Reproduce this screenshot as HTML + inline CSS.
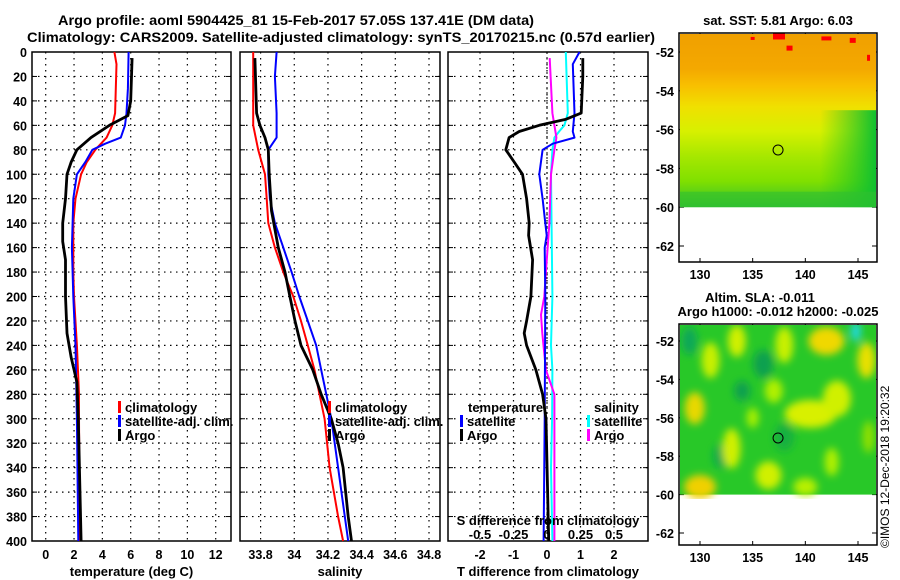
<!DOCTYPE html>
<html><head><meta charset="utf-8"><title>Argo profile</title>
<style>
html,body{margin:0;padding:0;background:#fff;}
svg{display:block;font-family:"Liberation Sans",sans-serif;font-weight:bold;}
</style></head>
<body>
<svg id="chart" width="900" height="580" viewBox="0 0 900 580" xmlns="http://www.w3.org/2000/svg">
<defs>
<linearGradient id="sstGrad" x1="0" y1="0" x2="0" y2="1">
<stop offset="0" stop-color="#f0a000"/><stop offset="0.2" stop-color="#f4a800"/>
<stop offset="0.3" stop-color="#f8c000"/><stop offset="0.42" stop-color="#f0e000"/>
<stop offset="0.56" stop-color="#d8f000"/><stop offset="0.7" stop-color="#a8e800"/>
<stop offset="0.85" stop-color="#80e000"/><stop offset="1" stop-color="#30c030"/></linearGradient>
<linearGradient id="sstRight" x1="0" y1="0" x2="1" y2="0">
<stop offset="0" stop-color="#20c820" stop-opacity="0"/><stop offset="1" stop-color="#10c030" stop-opacity="1"/></linearGradient>
<filter id="blur" x="-50%" y="-50%" width="200%" height="200%"><feGaussianBlur stdDeviation="4"/></filter>
<clipPath id="slaClip"><rect x="680" y="325" width="196" height="174"/></clipPath>
</defs>
<text x="58" y="25" font-size="14" textLength="476" lengthAdjust="spacingAndGlyphs">Argo profile: aoml 5904425_81 15-Feb-2017 57.05S 137.41E (DM data)</text>
<text x="27" y="42" font-size="14" textLength="628" lengthAdjust="spacingAndGlyphs">Climatology: CARS2009. Satellite-adjusted climatology: synTS_20170215.nc (0.57d earlier)</text>
<g id="panels"></g>
<g id="maps"></g>
</svg>
<script>
// ---------- data ----------
const depthTicks = [0,20,40,60,80,100,120,140,160,180,200,220,240,260,280,300,320,340,360,380,400];
const tempTicks = [0,2,4,6,8,10,12];
const salTicks = [33.8,34,34.2,34.4,34.6,34.8];
const tdiffTicks = [-2,-1,0,1,2];
const sdiffTicks = [-0.5,-0.25,0,0.25,0.5];

const climTempDepth = [0,10,50,60,70,80,90,100,120,140,180,200,240,280,300,400];
const climTemp      = [4.85,5.0,4.9,4.7,4.3,3.5,2.9,2.5,2.1,1.95,1.95,2.0,2.2,2.35,2.35,2.4];
const satTempDepth  = [0,30,50,60,70,75,80,90,100,120,160,200,240,300,400];
const satTemp       = [5.85,5.8,5.7,5.6,5.3,4.2,3.3,2.8,2.2,1.95,1.85,1.95,2.1,2.2,2.3];
const argoTempDepth = [5,40,52,60,70,80,90,100,120,140,155,170,200,230,250,270,300,400];
const argoTemp      = [6.1,6.0,5.8,4.5,3.2,2.2,1.8,1.5,1.4,1.2,1.2,1.4,1.4,1.5,1.8,2.2,2.3,2.5];

const climSalDepth = [0,60,80,100,120,140,160,180,200,220,240,260,280,300,340,380,400];
const climSal      = [33.756,33.756,33.786,33.826,33.836,33.846,33.885,33.935,33.994,34.04,34.08,34.12,34.15,34.18,34.21,34.26,34.29];
const satSalDepth  = [0,20,50,70,80,100,120,140,160,180,200,220,240,260,280,300,340,380,400];
const satSal       = [33.895,33.885,33.895,33.895,33.846,33.846,33.855,33.885,33.935,33.984,34.03,34.08,34.13,34.16,34.19,34.22,34.26,34.30,34.32];
const argoSalDepth = [5,50,60,70,80,100,130,160,180,200,220,240,260,280,300,320,340,380,400];
const argoSal      = [33.766,33.776,33.796,33.826,33.846,33.851,33.865,33.905,33.945,33.974,34.004,34.04,34.11,34.16,34.22,34.26,34.29,34.32,34.34];

const satTdiffDepth = [0,10,50,65,70,75,80,100,120,140,150,160,200,300,400];
const satTdiff      = [0.97,0.77,0.82,0.77,0.82,0.17,-0.13,-0.23,-0.13,-0.05,-0.01,-0.07,-0.05,-0.07,-0.1];
const argoTdiffDepth = [5,20,50,55,60,65,70,80,90,100,120,140,150,170,200,220,230,240,260,280,300,400];
const argoTdiff      = [1.07,1.07,1.02,0.57,-0.23,-0.83,-1.13,-1.23,-0.98,-0.73,-0.61,-0.53,-0.55,-0.43,-0.48,-0.61,-0.68,-0.61,-0.33,-0.13,-0.03,0.05];
const satSdiffDepth = [0,50,60,65,70,80,100,200,240,260,300,340,400];
const satSdiff      = [0.14,0.155,0.13,0.09,0.055,0.04,0.03,0.04,0.03,0.04,0.038,0.03,0.04];
const argoSdiffDepth = [5,50,60,70,80,100,140,180,200,215,230,260,280,300,400];
const argoSdiff      = [0.02,0.04,0.055,0.07,0.055,0.03,0.018,-0.008,-0.02,-0.045,-0.035,-0.008,0.055,0.055,0.055];

// ---------- helpers ----------
const NS = "http://www.w3.org/2000/svg";
function mk(tag, attrs, parent){const e=document.createElementNS(NS,tag);for(const k in attrs)e.setAttribute(k,attrs[k]);parent.appendChild(e);return e;}
const Y0=52, Y1=541;
function yDepth(d){return Y0+(d/400)*(Y1-Y0);}
function lin(d0,d1,r0,r1){return v=>r0+(v-d0)/(d1-d0)*(r1-r0);}
const xTemp = lin(0,12,45.7,215.7);
const xSal = lin(33.8,34.8,260.6,429);
const xTd = lin(-2,2,480,614);
const xSd = v => xTd(v*4);
const panels = document.getElementById('panels');

function panel(name, x0, x1, xTicks, xf, fmt, xlabel, showY){
  const g = mk('g',{},panels);
  
  
  depthTicks.forEach(d=>{ if(d>0&&d<400){const l=mk('line',{x1:x0,x2:x1,y1:yDepth(d),y2:yDepth(d),stroke:'#000','stroke-width':1.2,'stroke-dasharray':'1.5,4.5'},g);
    
    }
    mk('line',{x1:x0,x2:x0+5,y1:yDepth(d),y2:yDepth(d),stroke:'#000'},g);
    mk('line',{x1:x1-5,x2:x1,y1:yDepth(d),y2:yDepth(d),stroke:'#000'},g);
    if(showY){const t=mk('text',{x:x0-5,y:yDepth(d)+5,'font-size':12.5,'text-anchor':'end'},g);t.textContent=d;
      
      }
  });
  xTicks.forEach(v=>{const x=xf(v);
    const l=mk('line',{x1:x,x2:x,y1:Y0,y2:Y1,stroke:'#000','stroke-width':1.2,'stroke-dasharray':'1.5,4.5'},g);
    
    
    const t=mk('text',{x:x,y:559,'font-size':12.5,'text-anchor':'middle'},g);t.textContent=fmt(v);
    
    
  });
  const r=mk('rect',{x:x0,y:Y0,width:x1-x0,height:Y1-Y0,fill:'none',stroke:'#000','stroke-width':1.5},g);
  
  
  const lab=mk('text',{x:(x0+x1)/2,y:576,'font-size':13,'text-anchor':'middle'},g);lab.textContent=xlabel;
  
  
  return g;
}
function line(g, depths, vals, xf, color, w, name){
  const pts=depths.map((d,i)=>xf(vals[i]).toFixed(1)+','+yDepth(d).toFixed(1)).join(' ');
  const p=mk('polyline',{points:pts,fill:'none',stroke:color,'stroke-width':w,'stroke-linejoin':'round'},g);
  
  
}
function legend(g, x, y, color, text, name){
  mk('rect',{x:x,y:y-11,width:3,height:12,fill:color},g);
  const t=mk('text',{x:x+7,y:y,'font-size':13},g);t.textContent=text;
  
  
}
const f1=v=>String(v);
const p1=panel('temperature-panel',32,231,tempTicks,xTemp,f1,'temperature (deg C)',true);
line(p1,climTempDepth,climTemp,xTemp,'#ff0000',2,'climatology-temperature-line');
line(p1,satTempDepth,satTemp,xTemp,'#0000ff',2,'satellite-temperature-line');
line(p1,argoTempDepth,argoTemp,xTemp,'#000',2.8,'argo-temperature-line');
legend(p1,118,412,'#ff0000','climatology','legend-climatology');
legend(p1,118,426,'#0000ff','satellite-adj. clim.','legend-satellite');
legend(p1,118,440,'#000','Argo','legend-argo');

const p2=panel('salinity-panel',240,440,salTicks,xSal,v=>(Math.round(v*10)/10===34?'34':v.toFixed(1)),'salinity',false);
line(p2,climSalDepth,climSal,xSal,'#ff0000',2,'climatology-salinity-line');
line(p2,satSalDepth,satSal,xSal,'#0000ff',2,'satellite-salinity-line');
line(p2,argoSalDepth,argoSal,xSal,'#000',2.8,'argo-salinity-line');
legend(p2,328,412,'#ff0000','climatology','legend-climatology');
legend(p2,328,426,'#0000ff','satellite-adj. clim.','legend-satellite');
legend(p2,328,440,'#000','Argo','legend-argo');

const p3=panel('difference-panel',448,648,tdiffTicks,xTd,f1,'T difference from climatology',false);
line(p3,[0,400],[0,0],xTd,'#000',1,'zero-reference-line');
p3.lastChild.setAttribute('stroke-dasharray','2,3');
line(p3,satSdiffDepth,satSdiff,xSd,'#00ffff',2,'satellite-salinity-diff-line');
line(p3,argoSdiffDepth,argoSdiff,xSd,'#ff00ff',2,'argo-salinity-diff-line');
line(p3,satTdiffDepth,satTdiff,xTd,'#0000ff',2,'satellite-temperature-diff-line');
line(p3,argoTdiffDepth,argoTdiff,xTd,'#000',2.8,'argo-temperature-diff-line');
{const t=mk('text',{x:468,y:412,'font-size':13},p3);t.textContent='temperature';
 
 
 const s=mk('text',{x:594,y:412,'font-size':13},p3);s.textContent='salinity';
 
 }
legend(p3,460,426,'#0000ff','satellite','legend-temp-satellite');
legend(p3,460,440,'#000','Argo','legend-temp-argo');
legend(p3,587,426,'#00ffff','satellite','legend-sal-satellite');
legend(p3,587,440,'#ff00ff','Argo','legend-sal-argo');
{const t=mk('text',{x:548,y:525,'font-size':13,'text-anchor':'middle'},p3);t.textContent='S difference from climatology';
 
 }
sdiffTicks.forEach(v=>{const t=mk('text',{x:xSd(v),y:539,'font-size':13,'text-anchor':'middle'},p3);t.textContent=(v===0?'0':String(v));
 
 });

// ---------- maps ----------
const maps=document.getElementById('maps');
const latTicks=[-52,-54,-56,-58,-60,-62];
const lonTicks=[130,135,140,145];
const xLon=lin(130,145,700,858);
function mapFrame(name, top, bottom, yLat){
  const g=mk('g',{},maps);
  
  
  latTicks.forEach(l=>{const y=yLat(l);
    mk('line',{x1:679,x2:684,y1:y,y2:y,stroke:'#000'},g);mk('line',{x1:872,x2:877,y1:y,y2:y,stroke:'#000'},g);
    const t=mk('text',{x:674,y:y+5,'font-size':12.5,'text-anchor':'end'},g);t.textContent=l;
    
    });
  lonTicks.forEach(l=>{const x=xLon(l);
    mk('line',{x1:x,x2:x,y1:top,y2:top+4,stroke:'#000'},g);mk('line',{x1:x,x2:x,y1:bottom-4,y2:bottom,stroke:'#000'},g);
    const t=mk('text',{x:x,y:bottom+17,'font-size':12.5,'text-anchor':'middle'},g);t.textContent=l;
    
    });
  return g;
}
// SST map
const yLat1=lin(-52,-62,52,246);
const g1=mapFrame('sst-map',33,262,yLat1);
mk('rect',{x:680,y:34,width:196,height:yLat1(-60)-34,fill:'url(#sstGrad)'},g1);
mk('rect',{x:820,y:yLat1(-55),width:56,height:yLat1(-60)-yLat1(-55),fill:'url(#sstRight)'},g1);
mk('rect',{x:680,y:yLat1(-59.2),width:196,height:yLat1(-60)-yLat1(-59.2),fill:'#30c030',opacity:0.6},g1);
[[137.5,-51.2,12,6],[138.5,-51.8,6,5],[142,-51.3,10,4],[144.5,-51.4,6,5],[135,-51.3,4,3],[146,-52.3,3,6]].forEach(b=>{
  mk('rect',{x:xLon(b[0])-b[2]/2,y:yLat1(b[1])-b[3]/2,width:b[2],height:b[3],fill:'#ff0000'},g1);});
mk('rect',{x:679,y:33,width:198,height:229,fill:'none',stroke:'#000','stroke-width':1.5},g1);
mk('circle',{cx:xLon(137.41),cy:yLat1(-57.05),r:5,fill:'none',stroke:'#000'},g1);
{const t=mk('text',{x:778,y:25,'font-size':13,'text-anchor':'middle'},g1);t.textContent='sat. SST: 5.81 Argo: 6.03';
 
 }
// SLA map
const yLat2=lin(-52,-62,341,533);
const g2=mapFrame('sla-map',324,545,yLat2);
mk('rect',{x:680,y:325,width:196,height:yLat2(-60)-325,fill:'#28c828'},g2);
const blobs=mk('g',{'clip-path':'url(#slaClip)',filter:'url(#blur)'},g2);
[[129,-52,8,14,'#10a858'],[136,-53.2,10,14,'#10a050'],[134,-54.6,8,10,'#10a050'],[138,-57,10,14,'#18b040'],[132,-58,8,12,'#10a850'],
 [129.5,-55.5,10,16,'#e8d800'],[130,-59.6,16,12,'#f0d000'],[131,-53,9,18,'#c8f000'],[133.5,-52,9,16,'#d0f000'],[133,-57.6,9,20,'#d0f000'],
 [136.5,-59,13,14,'#d0f000'],[138,-52.2,9,18,'#c8f000'],[142,-52,18,14,'#f0d800'],[145.8,-53,9,18,'#e8e000'],[140.5,-55.8,26,14,'#d8f000'],
 [143,-55,14,18,'#d0f000'],[137,-54.6,9,12,'#b0f000'],[140,-59.6,12,9,'#b8f000'],[144.8,-51.5,5,10,'#20d8e0'],[142.5,-58.3,7,14,'#b0f000'],
 [135,-56,6,10,'#a8f000'],[146,-57,6,16,'#90e000']].forEach(b=>{
  mk('ellipse',{cx:xLon(b[0]),cy:yLat2(b[1]),rx:b[2],ry:b[3],fill:b[4]},blobs);});
mk('rect',{x:679,y:324,width:198,height:221,fill:'none',stroke:'#000','stroke-width':1.5},g2);
mk('circle',{cx:xLon(137.41),cy:yLat2(-57.05),r:5,fill:'none',stroke:'#000'},g2);
{const t=mk('text',{x:760,y:302,'font-size':13,'text-anchor':'middle'},g2);t.textContent='Altim. SLA: -0.011';
 
 
 const t2=mk('text',{x:778,y:316,'font-size':13,'text-anchor':'middle'},g2);t2.textContent='Argo h1000: -0.012 h2000: -0.025';
 
 
 const c=mk('text',{x:0,y:0,'font-size':12,'font-weight':'normal',transform:'translate(889,548) rotate(-90)'},maps);c.textContent='©IMOS 12-Dec-2018 19:20:32';
 
 }
</script>
</body></html>
